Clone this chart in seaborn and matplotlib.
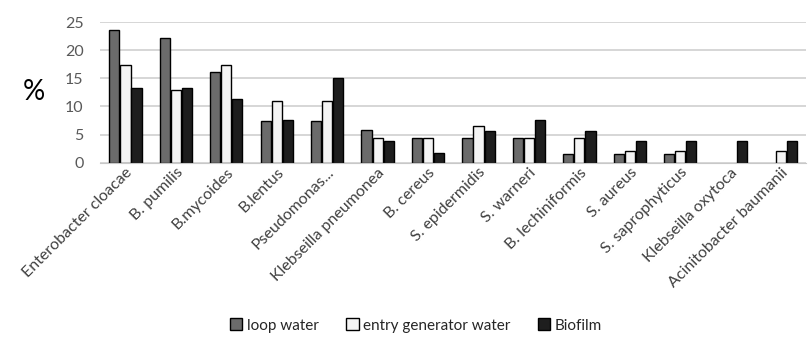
import matplotlib
matplotlib.use("Agg")
import matplotlib.pyplot as plt
import seaborn as sns
import pandas as pd

species = ["Enterobacter cloacae", "B. pumilis", "B.mycoides", "B.lentus", "Pseudomonas...",
           "Klebseilla pneumonea", "B. cereus", "S. epidermidis", "S. warneri",
           "B. lechiniformis", "S. aureus", "S. saprophyticus", "Klebseilla oxytoca",
           "Acinitobacter baumanii"]
loop_water = [23.6, 22.1, 16.2, 7.4, 7.4, 5.9, 4.4, 4.4, 4.4, 1.5, 1.5, 1.5, 0, 0]
entry_water = [17.4, 13.0, 17.4, 10.9, 10.9, 4.4, 4.4, 6.5, 4.4, 4.4, 2.1, 2.1, 0, 2.1]
biofilm = [13.2, 13.2, 11.3, 7.6, 15.1, 3.8, 1.8, 5.6, 7.6, 5.6, 3.8, 3.8, 3.8, 3.8]
series = ["loop water", "entry generator water", "Biofilm"]

df = pd.DataFrame({
    "species": species * 3,
    "value": loop_water + entry_water + biofilm,
    "source": [series[0]] * 14 + [series[1]] * 14 + [series[2]] * 14,
})

sns.set_style("white")
plt.rcParams["font.family"] = ["Lato", "DejaVu Sans"]

fig, ax = plt.subplots(figsize=(8.08, 3.39), dpi=100)
fig.subplots_adjust(left=0.124, right=0.998, top=0.935, bottom=0.52)

colors = ["#6b6b6b", "#f4f4f4", "#1e1e1e"]
sns.barplot(data=df, x="species", y="value", hue="source", palette=colors,
            width=0.66, gap=0.08, edgecolor="black", linewidth=1.0, ax=ax)

# empty bars should not show an outline
for p in ax.patches:
    if p.get_height() == 0:
        p.set_linewidth(0)

ax.set_ylim(0, 25)
ax.set_yticks(range(0, 26, 5))
ax.set_xlim(-0.5, 13.5)
ax.grid(axis="y", color="#d0d0d0", linewidth=1.2)
ax.set_axisbelow(True)
for s in ["top", "right", "left"]:
    ax.spines[s].set_visible(False)
ax.spines["bottom"].set_color("#c8c8c8")
ax.tick_params(axis="y", length=0, colors="#595959", labelsize=11.5, pad=12)
ax.tick_params(axis="x", length=0, colors="#404040", labelsize=11.5, pad=2)
ax.set_xlabel("")
ax.set_ylabel("%", rotation=0, fontsize=20, labelpad=22, va="center", color="black")
plt.setp(ax.get_xticklabels(), rotation=45, ha="right", rotation_mode="anchor")

handles, labels = ax.get_legend_handles_labels()
ax.get_legend().remove()
leg = fig.legend(handles, labels, loc="center", bbox_to_anchor=(0.515, 0.04), ncol=3,
                 frameon=False, fontsize=11, handlelength=0.8, handleheight=0.8,
                 handletextpad=0.3, columnspacing=1.8)
for h in leg.get_patches():
    h.set_edgecolor("black")
    h.set_linewidth(1.0)

fig.savefig("out.png", dpi=100)
